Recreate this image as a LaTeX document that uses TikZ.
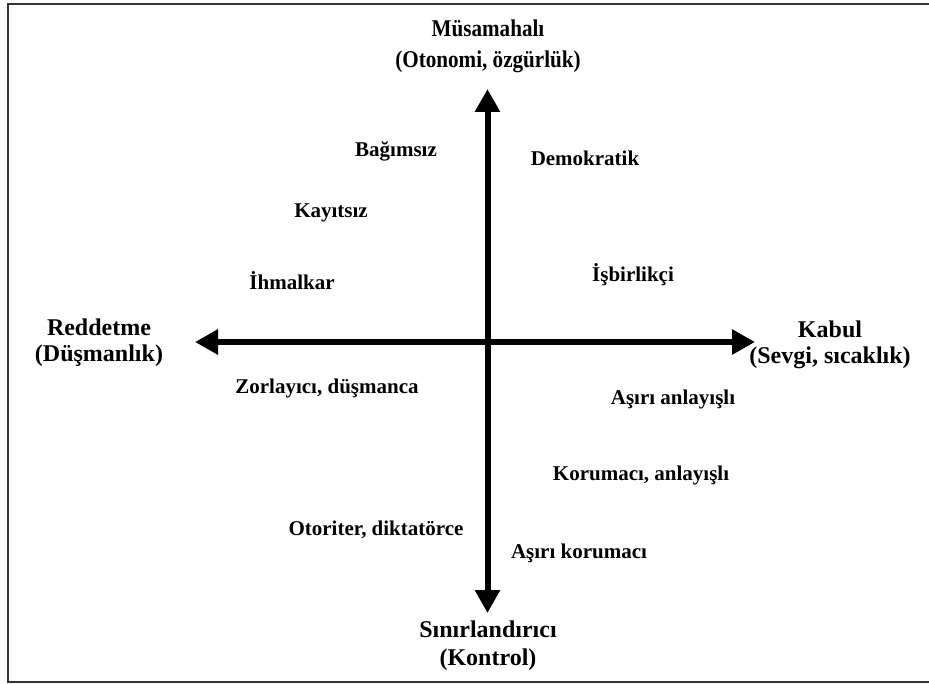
\documentclass[tikz,border=0pt]{standalone}
\usepackage{fontspec}
\setmainfont{Liberation Serif}
\usetikzlibrary{arrows.meta}
\tikzset{
  lbl/.style={font=\bfseries\fontsize{21}{25}\selectfont, inner sep=0pt},
  axlbl/.style={font=\bfseries\fontsize{24}{26}\selectfont, inner sep=0pt, align=center},
  axisline/.style={line width=6pt, {Triangle[length=23pt,width=24pt]}-{Triangle[length=23pt,width=24pt]}},
  frame/.style={draw=black!80, line width=2pt}
}
\begin{document}
\begin{tikzpicture}[x=1pt,y=-1pt]
\useasboundingbox (0,0) rectangle (929,684);
\fill[white] (0,0) rectangle (929,684);
\draw[frame] (8,4) rectangle (940,682);
% axis ends
\coordinate (top) at (487.5,89);
\coordinate (bot) at (487.5,613);
\coordinate (lft) at (195,342);
\coordinate (rgt) at (755,342);
\draw[axisline] (bot) -- (top);
\draw[axisline] (lft) -- (rgt);
% axis labels
\node[axlbl, xscale=0.88, font=\bfseries\fontsize{24}{31}\selectfont] (musa) at (488,46) {Müsamahalı\\(Otonomi, özgürlük)};
\node[axlbl] (redd) at (99,343) {Reddetme\\(Düşmanlık)};
\node[axlbl] (kabul) at (830,345) {Kabul\\(Sevgi, sıcaklık)};
\node[axlbl, font=\bfseries\fontsize{24}{28}\selectfont] (sinir) at (488,646) {Sınırlandırıcı\\(Kontrol)};
% quadrant labels
\node[lbl] (bag) at (396,151) {Bağımsız};
\node[lbl] (kay) at (331,213) {Kayıtsız};
\node[lbl] (ihm) at (292,281) {İhmalkar};
\node[lbl] (dem) at (585,158) {Demokratik};
\node[lbl] (isb) at (633,275) {İşbirlikçi};
\node[lbl] (zor) at (327,388) {Zorlayıcı, düşmanca};
\node[lbl] (asa) at (673,399) {Aşırı anlayışlı};
\node[lbl] (kor) at (641,475) {Korumacı, anlayışlı};
\node[lbl] (oto) at (376,530) {Otoriter, diktatörce};
\node[lbl] (ask) at (579,553) {Aşırı korumacı};
\end{tikzpicture}
\end{document}
